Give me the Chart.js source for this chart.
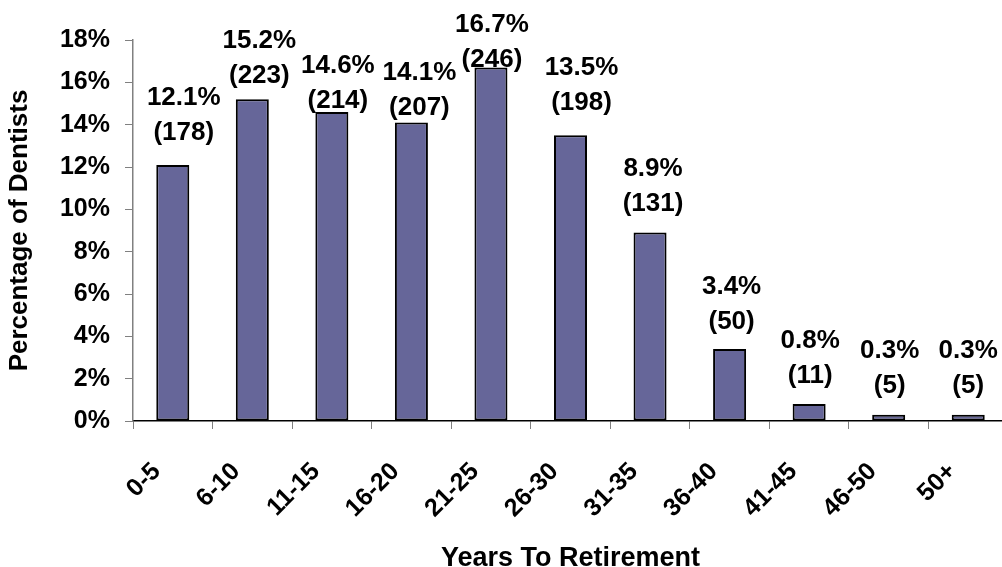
<!DOCTYPE html>
<html>
<head>
<meta charset="utf-8">
<script src="https://cdn.jsdelivr.net/npm/chart.js@4"></script>
<style>
  html, body { margin: 0; padding: 0; background: #fff; overflow: hidden; }
  #box { width: 1020px; height: 580px; }
</style>
</head>
<body>
<div id="box"><canvas id="grafico"></canvas></div>
<script>
// dados
const anos = ['0-5', '6-10', '11-15', '16-20', '21-25', '26-30', '31-35', '36-40', '41-45', '46-50', '50+'];
const percentual = [12.1, 15.2, 14.6, 14.1, 16.7, 13.5, 8.9, 3.4, 0.8, 0.3, 0.3];
const dentistas = [178, 223, 214, 207, 246, 198, 131, 50, 11, 5, 5];

// ajuste manual dos rotulos (px), como no original
const rotuloDx = [11, 7, 6, 8, 1, 11, 3, 2, 1, 1, 0];
const rotuloSobe = [32, 23, 11, 15, 8, 32, 29, 27, 28, 29, 29];

const fonte = '"Liberation Sans", Arial, sans-serif';

const rotulos = {
  id: 'rotulos',
  afterDatasetsDraw(chart) {
    const ctx = chart.ctx;
    const meta = chart.getDatasetMeta(0);
    ctx.save();
    ctx.font = 'bold 26px ' + fonte;
    ctx.fillStyle = '#000';
    ctx.textAlign = 'center';
    ctx.textBaseline = 'middle';
    meta.data.forEach((bar, i) => {
      const x = bar.x + rotuloDx[i];
      const y = bar.y - rotuloSobe[i];
      ctx.fillText('(' + dentistas[i] + ')', x, y);
      ctx.fillText(percentual[i].toFixed(1) + '%', x, y - 35);
    });
    ctx.restore();
  }
};

const ctx = document.getElementById('grafico').getContext('2d');

const grafico = new Chart(ctx, {
  type: 'bar',
  data: {
    labels: anos,
    datasets: [{
      data: percentual,
      backgroundColor: '#666699',
      borderColor: '#000',
      borderWidth: 2,
      borderSkipped: false,
      categoryPercentage: 1,
      barPercentage: 0.415
    }]
  },
  options: {
    responsive: true,
    maintainAspectRatio: false,
    animation: false,
    layout: { padding: { left: 0, top: 40, right: 12, bottom: 0 } },
    scales: {
      x: {
        grid: { drawOnChartArea: false, tickLength: 8, color: '#808080', offset: true },
        border: { color: '#000', width: 1.5 },
        ticks: {
          color: '#000',
          font: { family: fonte, size: 25, weight: 'bold' },
          minRotation: 45,
          maxRotation: 45,
          padding: 28,
          labelOffset: -16,
          autoSkip: false
        },
        title: {
          display: true,
          text: 'Years To Retirement',
          color: '#000',
          font: { family: fonte, size: 27, weight: 'bold' },
          padding: { top: 0, bottom: 5 }
        },
        afterFit: (scale) => { scale.height = 159; }
      },
      y: {
        min: 0,
        max: 18,
        ticks: {
          stepSize: 2,
          color: '#000',
          padding: 15,
          font: { family: fonte, size: 25, weight: 'bold' },
          callback: (val) => `${val}%`
        },
        grid: { drawOnChartArea: false, tickLength: 8, color: '#808080' },
        border: { color: '#808080', width: 1.5 },
        title: {
          display: true,
          text: 'Percentage of Dentists',
          color: '#000',
          font: { family: fonte, size: 26, weight: 'bold' },
          padding: { top: 4, bottom: 0 }
        },
        afterFit: (scale) => { scale.width = 133; }
      }
    },
    plugins: {
      legend: { display: false },
      tooltip: { enabled: false }
    }
  },
  plugins: [rotulos]
});
</script>
</body>
</html>
